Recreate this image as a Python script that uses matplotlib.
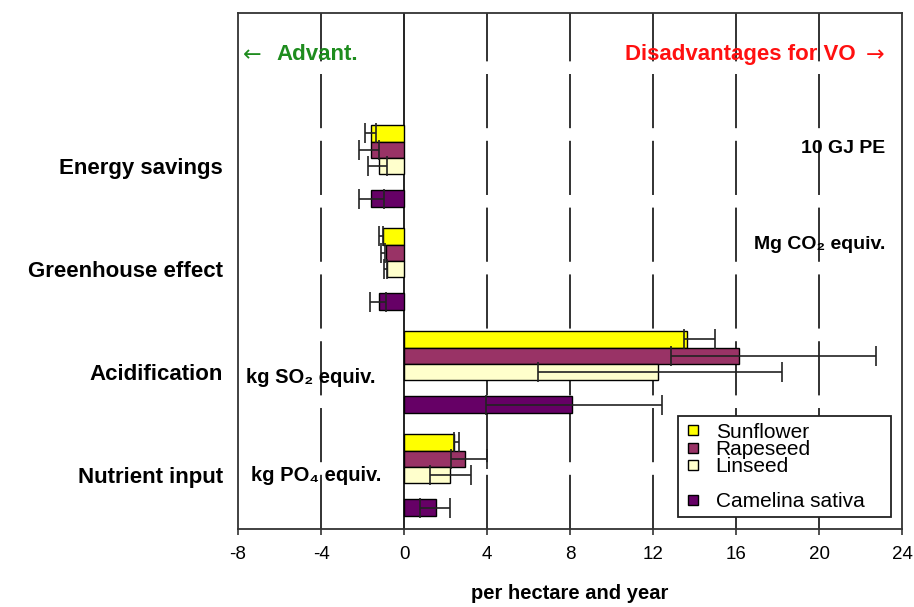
import numpy as np
import matplotlib
matplotlib.use('Agg')
import matplotlib.pyplot as plt
from matplotlib.lines import Line2D

plt.rcParams['font.family'] = ['Liberation Sans', 'DejaVu Sans']

# Data (per hectare and year)
categories = ['Energy savings', 'Greenhouse effect', 'Acidification', 'Nutrient input']
crops = ['Sunflower', 'Rapeseed', 'Linseed', 'Camelina sativa']
colors = ['#FFFF00', '#993366', '#FFFFCC', '#660066']

sunflower = [-1.58, -1.01, 13.65, 2.41]
rapeseed = [-1.58, -0.88, 16.15, 2.95]
linseed = [-1.20, -0.82, 12.25, 2.20]
camelina = [-1.58, -1.22, 8.10, 1.53]

# error bars drawn as min..max ranges
sunflower_lo = [-1.89, -1.19, 13.50, 2.40]
sunflower_hi = [-1.33, -1.03, 15.00, 2.63]
rapeseed_lo = [-2.17, -1.10, 12.85, 2.25]
rapeseed_hi = [-1.20, -0.92, 22.75, 3.98]
linseed_lo = [-1.73, -0.98, 6.45, 1.23]
linseed_hi = [-0.80, -0.80, 18.20, 3.24]
camelina_lo = [-2.17, -1.65, 3.95, 0.79]
camelina_hi = [-0.98, -0.88, 12.45, 2.20]

x_ticks = [-8, -4, 0, 4, 8, 12, 16, 20, 24]

values = [sunflower, rapeseed, linseed, camelina]
lows = [sunflower_lo, rapeseed_lo, linseed_lo, camelina_lo]
highs = [sunflower_hi, rapeseed_hi, linseed_hi, camelina_hi]

# layout: each group = 5 slots (3 bars, gap, camelina)
slot = 0.158
offsets = [-2 * slot, -slot, 0.0, 2 * slot]

fig = plt.figure(figsize=(9.14, 6.07), dpi=100)
ax = fig.add_axes([0.2604, 0.1285, 0.7265, 0.8501])

ypos = np.arange(len(categories))
for vals, lo, hi, off, col, name in zip(values, lows, highs, offsets, colors, crops):
    y = ypos + off
    ax.barh(y, vals, height=slot, color=col, edgecolor='black', linewidth=1.0,
            label=name, zorder=3)
    lo = np.array(lo)
    hi = np.array(hi)
    ax.errorbar((lo + hi) / 2, y, xerr=(hi - lo) / 2, fmt='none', ecolor='#222222',
                elinewidth=1.2, capsize=7, capthick=1.2, zorder=4)

ax.set_xlim(-8, 24)
ax.set_ylim(3.524, -1.485)

# vertical grid: dashed, solid at zero
for xv in x_ticks[1:-1]:
    if xv == 0:
        ax.axvline(0, color='#222222', lw=1.4, zorder=2)
    else:
        ax.axvline(xv, color='#222222', lw=1.3, dashes=(30, 7), zorder=1)

ax.set_xticks(x_ticks)
ax.set_xticklabels([str(t) for t in x_ticks])
ax.tick_params(axis='x', direction='out', length=4.5, width=1.2, pad=8,
               labelsize=13.5, color='#333333')
ax.set_yticks(ypos)
ax.set_yticklabels(categories, fontweight='bold', fontsize=16)
ax.tick_params(axis='y', length=0, pad=11)
for s in ax.spines.values():
    s.set_color('#333333')
    s.set_linewidth(1.3)

ax.set_xlabel('per hectare and year', fontsize=14.5, fontweight='bold', labelpad=15)

# annotations
arrow_font = ['DejaVu Sans']
ax.text(-7.75, -1.08, '\u2190', color='#1E8C1E', fontsize=16, family=arrow_font,
        ha='left', va='center')
ax.text(-6.15, -1.08, 'Advant.', color='#1E8C1E', fontsize=16,
        fontweight='bold', ha='left', va='center')
ax.text(23.15, -1.08, '\u2192', color='#FF1010', fontsize=16, family=arrow_font,
        ha='right', va='center')
ax.text(21.75, -1.08, 'Disadvantages for VO', color='#FF1010', fontsize=16,
        fontweight='bold', ha='right', va='center')
ax.text(23.2, -0.17, '10 GJ PE', fontsize=14, fontweight='bold', ha='right', va='center')
ax.text(23.2, 0.76, 'Mg CO\u2082 equiv.', fontsize=14, fontweight='bold',
        ha='right', va='center')
ax.text(-7.6, 2.05, 'kg SO\u2082 equiv.', fontsize=14.5, fontweight='bold',
        ha='left', va='center')
ax.text(-7.37, 3.0, 'kg PO\u2084 equiv.', fontsize=14.5, fontweight='bold',
        ha='left', va='center')

# legend with a blank row before Camelina
handles = [Line2D([], [], ls='none', marker='s', markersize=7, markerfacecolor=c,
                  markeredgecolor='black', markeredgewidth=1.0) for c in colors]
blank = Line2D([], [], ls='none')
leg = ax.legend(handles[:3] + [blank] + handles[3:],
                crops[:3] + [' '] + crops[3:],
                loc='lower left', bbox_to_anchor=(0.6627, 0.023, 0.3203, 0.19),
                mode='expand', fancybox=False, framealpha=1, edgecolor='#222222',
                fontsize=15, labelspacing=-0.08, handlelength=0.8,
                handletextpad=0.7, borderpad=0.3, borderaxespad=0)
leg.get_frame().set_linewidth(1.3)
leg.set_zorder(5)

fig.savefig('out.png', dpi=100)
